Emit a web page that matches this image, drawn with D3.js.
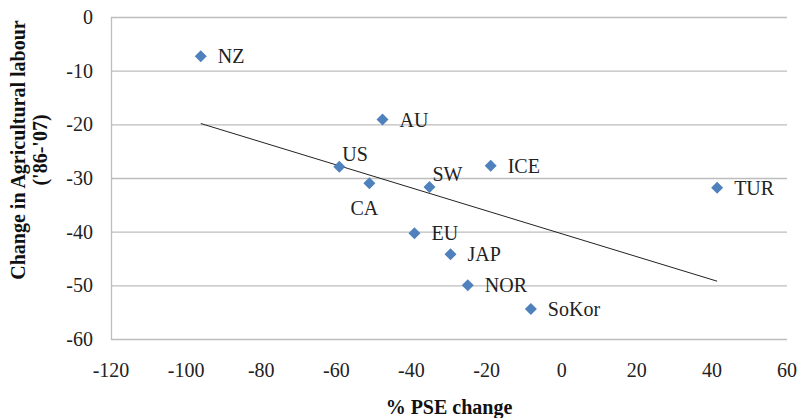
<!DOCTYPE html>
<html><head><meta charset="utf-8">
<script src="https://cdn.jsdelivr.net/npm/d3@7"></script>
</head><body style="margin:0;background:#fff"><svg id="c" width="799" height="418"></svg>
<script>
const countries = ["NZ","AU","US","CA","SW","ICE","TUR","EU","JAP","NOR","SoKor"];
const pseChange = [-96.1,-47.7,-59.2,-51.2,-35.2,-18.9,41.4,-39.2,-29.6,-25.0,-8.2];
const labourChange = [-7.3,-19.1,-27.9,-31.0,-31.7,-27.7,-31.8,-40.3,-44.2,-50.0,-54.4];
const xTicks = [-120,-100,-80,-60,-40,-20,0,20,40,60];
const yTicks = [0,-10,-20,-30,-40,-50,-60];
const labelPlacement = ["right","right","above","below","above","right","right","right","right","right","right"];

const FONT = '"Liberation Serif", "Times New Roman", serif';
const svg = d3.select("#c");
const m = {l:111, r:787, t:17, b:339};
const x = d3.scaleLinear().domain([-120,60]).range([m.l,m.r]);
const y = d3.scaleLinear().domain([-60,0]).range([m.b,m.t]);

// gridlines
svg.append("g").selectAll("line").data(yTicks).join("line")
  .attr("x1",m.l).attr("x2",m.r).attr("y1",d=>y(d)+0.5).attr("y2",d=>y(d)+0.5)
  .attr("stroke","#bdbdbd").attr("stroke-width",1.3);
svg.append("line").attr("x1",m.l+0.5).attr("x2",m.l+0.5).attr("y1",m.t).attr("y2",m.b+1)
  .attr("stroke","#bdbdbd").attr("stroke-width",1.3);

// tick labels
svg.append("g").selectAll("text").data(yTicks).join("text")
  .attr("x",93).attr("y",d=>y(d)+7).attr("text-anchor","end")
  .style("font-family",FONT).attr("font-size",20).attr("fill","#222").text(d=>d);
svg.append("g").selectAll("text").data(xTicks).join("text")
  .attr("x",d=>x(d)).attr("y",377).attr("text-anchor","middle")
  .style("font-family",FONT).attr("font-size",20).attr("fill","#222").text(d=>d);

// axis titles
svg.append("text").attr("x",(m.l+m.r)/2).attr("y",414).attr("text-anchor","middle")
  .style("font-family",FONT).attr("font-size",20).attr("font-weight","bold").attr("fill","#111").text("% PSE change");
const yt = svg.append("text").attr("transform","translate(25,150) rotate(-90)")
  .style("font-family",FONT).attr("text-anchor","middle").attr("font-size",20).attr("font-weight","bold").attr("fill","#111");
yt.append("tspan").attr("x",0).attr("y",0).text("Change in Agricultural labour");
yt.append("tspan").attr("x",0).attr("y",22).text("('86-'07)");

// trendline (least squares)
const n = pseChange.length;
const mx = d3.mean(pseChange), my = d3.mean(labourChange);
let sxy=0,sxx=0;
for(let i=0;i<n;i++){sxy+=(pseChange[i]-mx)*(labourChange[i]-my);sxx+=(pseChange[i]-mx)**2;}
const slope = sxy/sxx, icpt = my - slope*mx;
const [xmin,xmax] = d3.extent(pseChange);
svg.append("line").attr("x1",x(xmin)).attr("y1",y(icpt+slope*xmin))
  .attr("x2",x(xmax)).attr("y2",y(icpt+slope*xmax))
  .attr("stroke","#222").attr("stroke-width",1);

// points
const pts = countries.map((c,i)=>({c, px:pseChange[i], ly:labourChange[i], p:labelPlacement[i]}));
svg.append("g").selectAll("path").data(pts).join("path")
  .attr("d", d3.symbol(d3.symbolSquare, 72))
  .attr("transform", d=>`translate(${x(d.px)},${y(d.ly)}) rotate(45)`)
  .attr("fill","#4F81BD");

// labels
svg.append("g").selectAll("text").data(pts).join("text")
  .style("font-family",FONT).attr("font-size",20).attr("fill","#222")
  .attr("x", d=> d.p==="right" ? x(d.px)+17 : d.p==="above" ? x(d.px)+3 : x(d.px)-19)
  .attr("y", d=> d.p==="right" ? y(d.ly)+7 : d.p==="above" ? y(d.ly)-6 : y(d.ly)+32)
  .text(d=>d.c);
</script></body></html>
